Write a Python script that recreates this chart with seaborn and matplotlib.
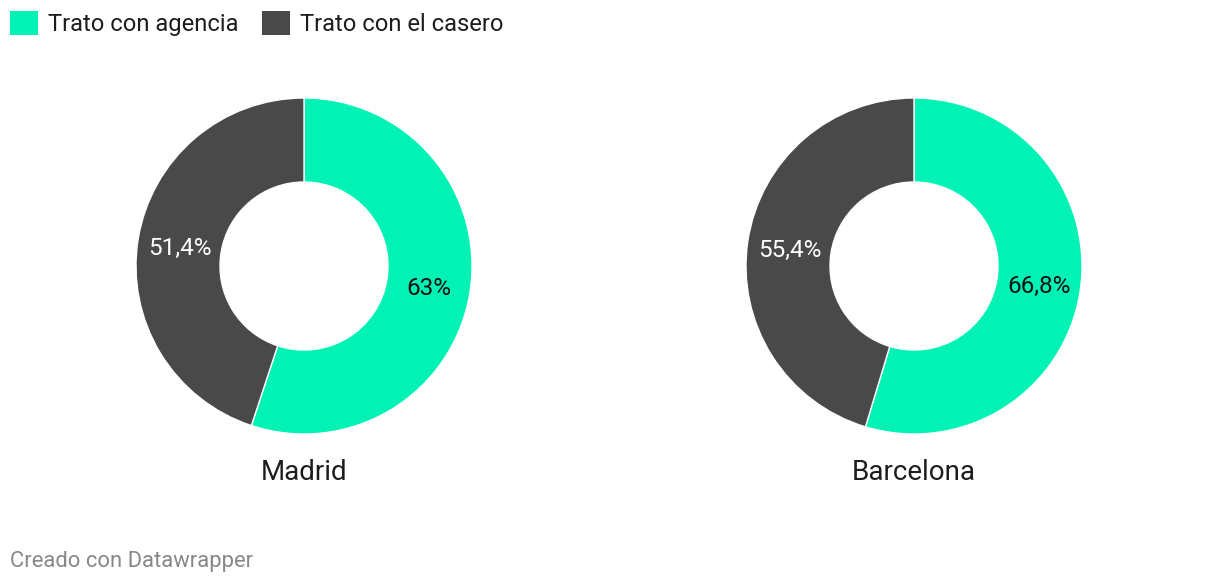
import numpy as np
import matplotlib
matplotlib.use("Agg")
import matplotlib.pyplot as plt
from matplotlib.patches import Patch
import seaborn as sns

# data
cities = ["Madrid", "Barcelona"]
series = ["Trato con agencia", "Trato con el casero"]
agencia = [63.0, 66.8]
casero = [51.4, 55.4]

sns.set_theme(style="white")
plt.rcParams["font.family"] = ["Roboto", "DejaVu Sans"]
colors = sns.color_palette(["#00f2b4", "#494949"])
label_colors = ["#111111", "#ffffff"]

W, H = 1220, 582
fig = plt.figure(figsize=(W / 100, H / 100), dpi=100)

centers_x = [304, 914]
cy, r = 266, 168

for i, city in enumerate(cities):
    cx = centers_x[i]
    ax = fig.add_axes([(cx - r) / W, (H - cy - r) / H, 2 * r / W, 2 * r / H])
    vals = [agencia[i], casero[i]]
    wedges, _ = ax.pie(vals, colors=colors, startangle=90, counterclock=False,
                       radius=1, wedgeprops=dict(width=0.5, edgecolor="white", linewidth=1))
    for j, w in enumerate(wedges):
        mid = np.deg2rad((w.theta1 + w.theta2) / 2)
        txt = f"{vals[j]:g}".replace(".", ",") + "%"
        ax.text(0.75 * np.cos(mid), 0.75 * np.sin(mid), txt, ha="center", va="center_baseline",
                fontsize=17.5, color=label_colors[j])
    ax.set_xlim(-1, 1)
    ax.set_ylim(-1, 1)
    ax.set_aspect("equal")
    ax.axis("off")
    fig.text(cx / W, 1 - 469 / H, city, ha="center", va="center_baseline", fontsize=20, color="#1d1d1d")

handles = [Patch(facecolor=c, edgecolor="none") for c in colors]
fig.legend(handles, series, loc="upper left", bbox_to_anchor=(10 / W, 1 - 11 / H),
           ncol=2, frameon=False, fontsize=17.1, handlelength=1.18, handleheight=1.18,
           handletextpad=0.42, columnspacing=1.0, borderpad=0, borderaxespad=0,
           labelcolor="#1d1d1d")

fig.text(10 / W, 1 - 561 / H, "Creado con Datawrapper", ha="left", va="center",
         fontsize=15.8, color="#888888")

fig.savefig("out.png", dpi=100)
